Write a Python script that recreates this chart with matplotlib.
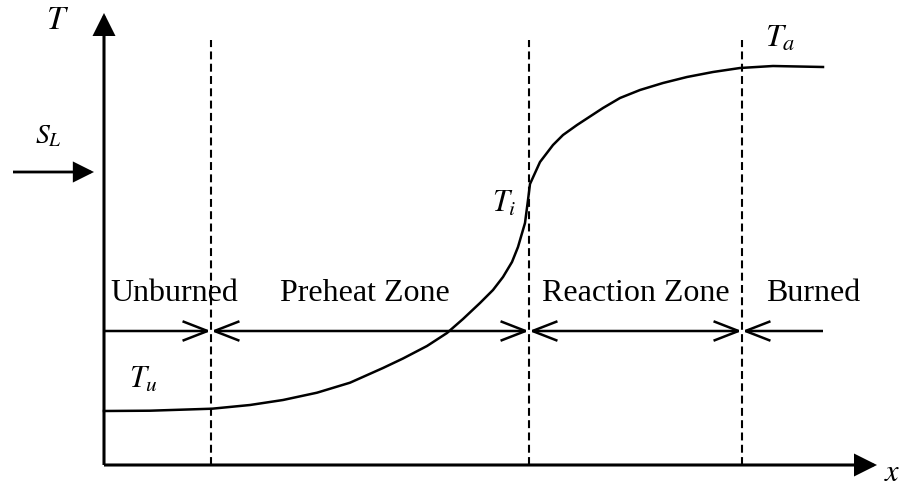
import matplotlib
matplotlib.use("Agg")
import matplotlib.pyplot as plt
from matplotlib.patches import FancyArrowPatch

plt.rcParams['font.family'] = ['Liberation Serif', 'DejaVu Serif']
plt.rcParams['mathtext.fontset'] = 'stix'

# perfil de temperatura T(x) a traves de la llama
x_perfil = [0, 46, 108, 146, 179, 213, 246, 279, 299, 323, 343, 359, 376,
            389, 399, 408, 414, 421, 424, 426, 431, 436, 449, 459, 473,
            499, 516, 536, 559, 583, 609, 636, 669, 719]
T_perfil = [54, 54.3, 56.3, 60, 65, 72.3, 82.3, 97, 106.5, 119, 132, 146,
            162, 175, 188, 203, 218, 242, 265, 281, 292, 303, 320, 330,
            340, 357, 367, 375, 382, 388, 393, 397, 399, 398]

# limites de zona (lineas discontinuas)
x_limites = [107, 425, 638]
T_limite_sup = 425

zonas = ["Unburned", "Preheat Zone", "Reaction Zone", "Burned"]
x_zonas = [70, 261, 532, 709]
T_zonas = 164
T_flechas = 134
x_fin = 719

fig = plt.figure(figsize=(9.03, 4.88), dpi=100)
ax = fig.add_axes([0, 0, 1, 1])
ax.set_xlim(-104, 799)
ax.set_ylim(-23, 465)
ax.axis('off')


def flecha(p0, p1, estilo, lw, **kw):
    a = FancyArrowPatch(p0, p1, arrowstyle=estilo, mutation_scale=1,
                        shrinkA=0, shrinkB=0, lw=lw, color='black',
                        joinstyle='miter', capstyle='butt', **kw)
    ax.add_patch(a)


# ejes
flecha((0, 0), (0, 452), '-|>,head_length=13,head_width=6.5', 2.2)
flecha((0, 0), (773, 0), '-|>,head_length=13,head_width=6.5', 2.2)
ax.text(-46, 444, '$T$', fontsize=24, ha='center', va='center')
ax.text(780, -16, '$x$', fontsize=22, ha='left', va='baseline')

# velocidad de llama
flecha((-91, 293), (-10, 293), '-|>,head_length=12,head_width=6', 2.0)
ax.text(-69, 322, '$S_L$', fontsize=20, ha='left', va='baseline')

# curva de temperatura
ax.plot(x_perfil, T_perfil, color='black', lw=1.8, solid_joinstyle='round')
ax.text(25, 77, '$T_u$', fontsize=22, ha='left', va='baseline')
ax.text(388, 253, '$T_i$', fontsize=22, ha='left', va='baseline')
ax.text(661, 418, '$T_a$', fontsize=23, ha='left', va='baseline')

# lineas discontinuas
for xl in x_limites:
    ax.plot([xl, xl], [0, T_limite_sup], color='black', lw=1.5,
            dashes=(3.8, 2.1))

# flechas de zonas
cab = 'head_length=18,head_width=7'
flecha((0, T_flechas), (x_limites[0], T_flechas), '->,' + cab, 1.8)
flecha((x_limites[0], T_flechas), (x_limites[1], T_flechas), '<->,' + cab, 1.8)
flecha((x_limites[1], T_flechas), (x_limites[2], T_flechas), '<->,' + cab, 1.8)
flecha((x_fin, T_flechas), (x_limites[2], T_flechas), '->,' + cab, 1.8)

for nombre, xz in zip(zonas, x_zonas):
    ax.text(xz, T_zonas, nombre, fontsize=23, ha='center', va='baseline')

fig.savefig('out.png', dpi=100)
